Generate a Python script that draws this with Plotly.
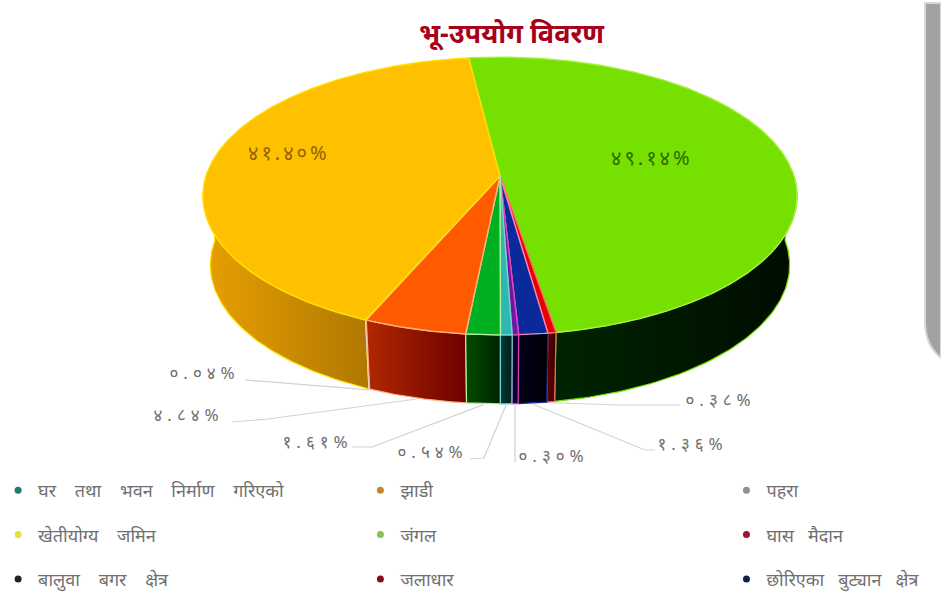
import numpy as np
import plotly.graph_objects as go

# ---------- data ----------
categories = ["जंगल", "घास मैदान", "छोरिएका बुट्यान क्षेत्र", "जलाधार", "घर तथा भवन निर्माण गरिएको",
              "बालुवा बगर क्षेत्र", "झाडी", "पहरा", "खेतीयोग्य जमिन"]
values = [49.14, 0.38, 1.36, 0.30, 0.54, 1.61, 4.84, 0.04, 41.40]
value_labels = ["४९.१४%", "०.३८%", "१.३६%", "०.३०%", "०.५४%", "१.६१%", "४.८४%", "०.०४%", "४१.४०%"]
title_text = "भू-उपयोग विवरण"

# ---------- styling ----------
top_colors = ["#76e000", "#e60000", "#0a2a9c", "#6a1aa0", "#2fb8b0", "#00b020", "#ff5a00", "#c8c8c8", "#ffc000"]
edge_colors = ["#a8f040", "#ff6060", "#ff80b0", "#e040c0", "#70d8d0", "#b8f0a0", "#ffb080", "#e0e0e0", "#ffe000"]
side_scales = [["#002400", "#000c00"], ["#6a0000", "#300000"], ["#000018", "#000008"], ["#14003c", "#0a0020"],
               ["#003838", "#002020"], ["#004c00", "#002400"], ["#b02800", "#6e0000"], ["#808080", "#606060"],
               ["#e8a000", "#b07800"]]
legend_colors = ["#86c450", "#a01030", "#10204a", "#801020", "#207a70", "#202020", "#c08a30", "#909090", "#e8e040"]
legend_cols = {0: [4, 8, 5], 1: [6, 0, 3], 2: [7, 1, 2]}
legend_x = {0: -0.002, 1: 0.383, 2: 0.772}
legend_word_gap = {0: 4, 1: 3, 2: 3}

CX, CY, A, B, K = 500.0, 176.0, 294.0, 136.0, 0.144
DEPTH, SHRINK = 69.0, 0.975
START = -7.0


def project(theta_deg, frac=1.0, depth=0.0, shrink=1.0):
    t = np.radians(theta_deg)
    X, Y = frac * np.sin(t), frac * np.cos(t)
    d = 1 + K * Y
    return CX + shrink * A * X / d, CY - B * Y / d + depth


sum_v = sum(values)
edges = [START]
for v in values:
    edges.append(edges[-1] + 360.0 * v / sum_v)

fig = go.Figure()

# side walls, back to front
order = sorted(range(len(values)), key=lambda i: -abs(((edges[i] + edges[i + 1]) / 2 % 360) - 180))
for i in order:
    a, b = edges[i], edges[i + 1]
    a2, b2 = max(a, 88.0), min(b, 272.0)
    if b2 <= a2:
        continue
    th = np.linspace(a2, b2, 80)
    x1, y1 = project(th)
    x2, y2 = project(th[::-1], depth=DEPTH, shrink=SHRINK)
    xs = np.concatenate([x1, x2, x1[:1]])
    ys = np.concatenate([y1, y2, y1[:1]])
    fig.add_trace(go.Scatter(
        x=xs, y=ys, mode="lines", fill="toself", showlegend=False, hoverinfo="skip",
        line=dict(color=edge_colors[i] if i not in (0, 2) else top_colors[i], width=1.2),
        fillgradient=dict(type="horizontal", start=float(xs.min()), stop=float(xs.max()),
                          colorscale=[[0, side_scales[i][0]], [1, side_scales[i][1]]]),
    ))

# top faces
for i in range(len(values)):
    th = np.linspace(edges[i], edges[i + 1], max(3, int((edges[i + 1] - edges[i]) * 2)))
    x, y = project(th)
    fig.add_trace(go.Scatter(
        x=np.concatenate([[CX], x, [CX]]), y=np.concatenate([[CY], y, [CY]]),
        mode="lines", fill="toself", fillcolor=top_colors[i], showlegend=False,
        line=dict(color=edge_colors[i], width=1.4),
        name=categories[i], text=value_labels[i], hoverinfo="name+text",
    ))

# leader lines and outside labels
outside = {7: ((204, 372), [(245, 380)]),
           6: ((188, 414), [(232, 422), (268, 419)]),
           5: ((317, 441), [(352, 447), (372, 447)]),
           4: ((432, 451), [(470, 459), (484, 458)]),
           3: ((553, 455), [(515, 462)]),
           2: ((692, 443), [(655, 450), (645, 450)]),
           1: ((720, 399), [(680, 405), (620, 405)])}
annotations = []
for i, (pos, elbow) in outside.items():
    mx, my = project((edges[i] + edges[i + 1]) / 2, depth=DEPTH, shrink=SHRINK)
    fig.add_trace(go.Scatter(x=[p[0] for p in elbow] + [mx], y=[p[1] for p in elbow] + [my + 1],
                             mode="lines", line=dict(color="#d2d2d2", width=1.2),
                             showlegend=False, hoverinfo="skip"))
    annotations.append(dict(x=pos[0], y=pos[1], text=value_labels[i], showarrow=False,
                            font=dict(size=17, color="#6e6e6e")))

annotations.append(dict(x=652, y=157, text=value_labels[0], showarrow=False,
                        font=dict(size=20, color="#2c6a00")))
annotations.append(dict(x=289, y=152, text=value_labels[8], showarrow=False,
                        font=dict(size=20, color="#946400")))
annotations.append(dict(x=512, y=32, text="<b>" + title_text + "</b>", showarrow=False,
                        font=dict(size=27, color="#a80018")))

# legend
layout_legends = {}
for col, items in legend_cols.items():
    name = "legend" if col == 0 else f"legend{col + 1}"
    layout_legends[name] = dict(x=legend_x[col], y=1 - 472 / 593, xanchor="left", yanchor="top",
                                bgcolor="rgba(0,0,0,0)", font=dict(size=18, color="#707070"),
                                tracegroupgap=18, itemwidth=30, traceorder="grouped")
    for i in items:
        fig.add_trace(go.Scatter(x=[None], y=[None], mode="markers",
                                 name=categories[i].replace(" ", "\u00a0" * legend_word_gap[col]),
                                 legendgroup=categories[i], showlegend=True, legend=name,
                                 marker=dict(size=7, color=legend_colors[i])))

fig.update_layout(
    width=941, height=593, margin=dict(l=0, r=0, t=0, b=0, autoexpand=False), autosize=False,
    paper_bgcolor="white", plot_bgcolor="white",
    xaxis=dict(range=[0, 941], visible=False, fixedrange=True),
    yaxis=dict(range=[593, 0], visible=False, fixedrange=True),
    font=dict(family="Noto Sans, DejaVu Sans, sans-serif"),
    annotations=annotations,
    shapes=[
        dict(type="path", xref="x", yref="y", layer="below",
             path="M 925 3 L 941 3 L 941 358 Q 925 345 925 322 Z",
             fillcolor="#a2a2a2", line=dict(color="#d8d8d8", width=2)),
    ],
    **layout_legends,
)

post = """
document.body.style.margin='0';document.body.style.overflow='hidden';
document.querySelectorAll('.annotation-text').forEach(function(t){
  if(t.textContent.indexOf('%')>=0){t.style.letterSpacing=(t.textContent.length>5?'3px':'5px');}
});
"""
fig.write_html("out.html", config={"displayModeBar": False}, post_script=post)
